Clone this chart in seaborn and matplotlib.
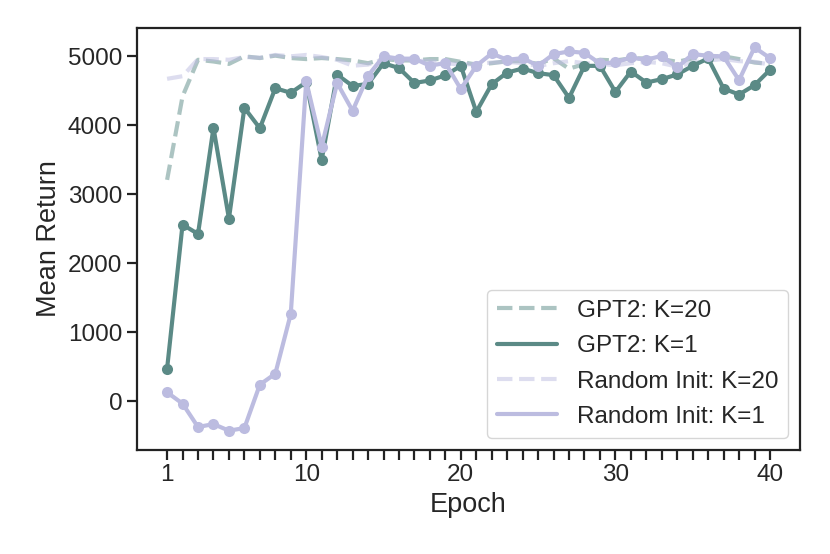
import numpy as np
import pandas as pd
import matplotlib
matplotlib.use("Agg")
import matplotlib.pyplot as plt
import seaborn as sns
from matplotlib.lines import Line2D

# ---------------------------------------------------------------------------
# Data
# ---------------------------------------------------------------------------
epochs = list(range(1, 41))

gpt2_k20 = [3210, 4420, 4950, 4925, 4890, 5000, 4975, 5010, 4975, 4960,
            4975, 4960, 4940, 4900, 4960, 4940, 4940, 4960, 4960, 4920,
            4880, 4900, 4930, 4930, 4890, 4970, 4820, 4890, 4950, 4940,
            4970, 4970, 4960, 4920, 4970, 5000, 5000, 4960, 4910, 4890]

gpt2_k1 = [474, 2562, 2426, 3963, 2649, 4253, 3958, 4538, 4471, 4625,
           3500, 4734, 4570, 4600, 4900, 4830, 4613, 4651, 4724, 4862,
           4195, 4596, 4765, 4823, 4756, 4727, 4398, 4862, 4862, 4484,
           4780, 4620, 4669, 4737, 4862, 4969, 4533, 4446, 4582, 4804]

rand_k20 = [4674, 4712, 4960, 4960, 4950, 4990, 4980, 5020, 5000, 5020,
            4990, 4950, 4864, 4880, 4960, 4960, 4940, 4930, 4900, 4880,
            4890, 4910, 4920, 4900, 4860, 4900, 4930, 4900, 4890, 4870,
            4900, 4920, 4900, 4850, 4910, 4940, 4960, 4930, 4920, 4880]

rand_k1 = [131, -33, -372, -329, -425, -387, 242, 401, 1266, 4637,
           3693, 4613, 4211, 4719, 5000, 4966, 4966, 4864, 4903, 4526,
           4862, 5041, 4949, 4974, 4862, 5032, 5070, 5051, 4896, 4911,
           4983, 4949, 5008, 4838, 5032, 5008, 4998, 4654, 5129, 4974]

labels = ["GPT2: K=20", "GPT2: K=1", "Random Init: K=20", "Random Init: K=1"]
xtick_labels = [1, 10, 20, 30, 40]

teal = "#5b8a86"
lavender = "#bcbce0"

# ---------------------------------------------------------------------------
# Plot
# ---------------------------------------------------------------------------
sns.set_theme(style="ticks")
plt.rcParams["font.family"] = ["Liberation Sans", "DejaVu Sans"]

fig, ax = plt.subplots(figsize=(8.3, 5.54), dpi=100)
fig.subplots_adjust(left=0.165, right=0.964, top=0.949, bottom=0.188)

df = pd.DataFrame({"epoch": epochs, "gpt2_k20": gpt2_k20, "gpt2_k1": gpt2_k1,
                   "rand_k20": rand_k20, "rand_k1": rand_k1})

sns.lineplot(data=df, x="epoch", y="gpt2_k20", ax=ax, color=teal, alpha=0.5,
             linewidth=3, linestyle="--")
sns.lineplot(data=df, x="epoch", y="rand_k20", ax=ax, color=lavender, alpha=0.5,
             linewidth=3, linestyle="--")
sns.lineplot(data=df, x="epoch", y="gpt2_k1", ax=ax, color=teal, linewidth=3,
             marker="o", markersize=8, markeredgewidth=0)
sns.lineplot(data=df, x="epoch", y="rand_k1", ax=ax, color=lavender, linewidth=3,
             marker="o", markersize=8, markeredgewidth=0)

ax.set_xticks(epochs)
ax.set_xticklabels([str(e) if e in xtick_labels else "" for e in epochs])
ax.set_yticks([0, 1000, 2000, 3000, 4000, 5000])
ax.set_xlabel("Epoch", fontsize=19.5)
ax.set_ylabel("Mean Return", fontsize=19.5)
ax.tick_params(axis="both", labelsize=17.5, length=7, width=1.6, color="#222222")

for side in ["top", "right", "bottom", "left"]:
    ax.spines[side].set_visible(True)
    ax.spines[side].set_linewidth(1.6)
    ax.spines[side].set_color("#222222")

handles = [
    Line2D([], [], color=teal, alpha=0.5, linewidth=3, linestyle="--"),
    Line2D([], [], color=teal, linewidth=3),
    Line2D([], [], color=lavender, alpha=0.5, linewidth=3, linestyle="--"),
    Line2D([], [], color=lavender, linewidth=3),
]
ax.legend(handles, labels, loc="lower right", fontsize=17.5, handlelength=2.5,
          frameon=True, borderaxespad=0.5, labelspacing=0.55)

fig.savefig("out.png", dpi=100)
